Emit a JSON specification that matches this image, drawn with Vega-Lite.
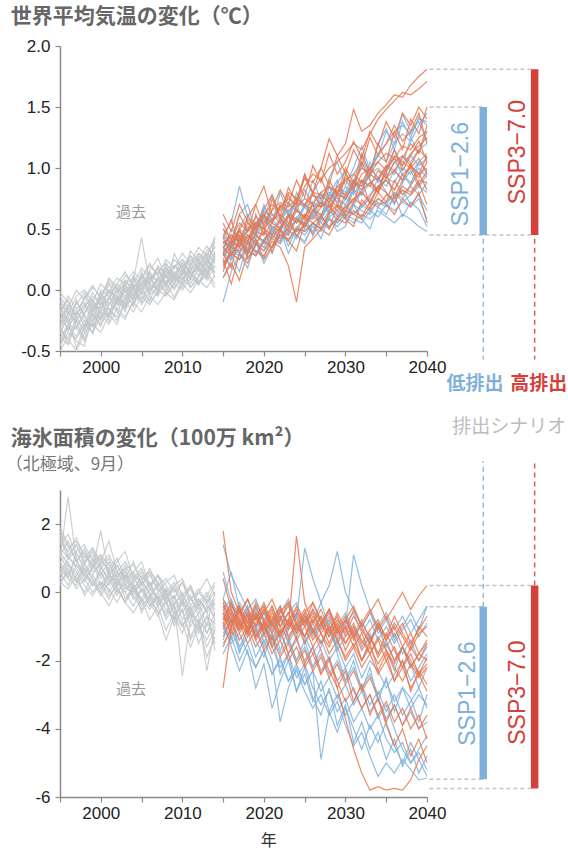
{
"$schema":"https://vega.github.io/schema/vega-lite/v6.json",
"background":"white",
"padding":{"left":5,"top":5,"right":0,"bottom":0},
"bounds":"flush",
"spacing":139,
"config":{"view":{"stroke":null},
"axis":{"grid":false,"title":null,"domainColor":"#8a8a8a","domainWidth":1.5,"tickColor":"#8a8a8a","tickWidth":1.2,"tickSize":5,"labelFont":"Liberation Sans","labelFontSize":17,"labelColor":"#222","labelPadding":3,"labelOverlap":false,"labelFlush":false},
"axisY":{"labelPadding":5}},
"datasets":{
"tl":[
{"k":"h01","g":"h","x":[1995,1996,1997,1998,1999,2000,2001,2002,2003,2004,2005,2006,2007,2008,2009,2010,2011,2012,2013,2014],"y":[-0.25,-0.12,-0.2,-0.05,-0.18,-0.08,-0.02,-0.1,0.02,-0.05,0.08,0,0.1,0.03,0.15,0.08,0.2,0.12,0.25,0.18]},
{"k":"h02","g":"h","x":[1995,1996,1997,1998,1999,2000,2001,2002,2003,2004,2005,2006,2007,2008,2009,2010,2011,2012,2013,2014],"y":[-0.42,-0.3,-0.38,-0.25,-0.3,-0.2,-0.28,-0.15,-0.22,-0.1,-0.18,-0.05,-0.12,-0.02,-0.08,0.05,-0.02,0.08,0.02,0.12]},
{"k":"h03","g":"h","x":[1995,1996,1997,1998,1999,2000,2001,2002,2003,2004,2005,2006,2007,2008,2009,2010,2011,2012,2013,2014],"y":[-0.05,-0.15,0,-0.08,0.02,-0.05,0.08,0,0.12,0.05,0.18,0.1,0.15,0.22,0.12,0.25,0.2,0.3,0.25,0.35]},
{"k":"h04","g":"h","x":[1995,1996,1997,1998,1999,2000,2001,2002,2003,2004,2005,2006,2007,2008,2009,2010,2011,2012,2013,2014],"y":[-0.35,-0.22,-0.48,-0.3,-0.15,-0.25,-0.12,-0.05,-0.15,0.02,-0.08,0.05,0,0.12,0.05,0.18,0.1,0.22,0.15,0.28]},
{"k":"h05","g":"h","x":[1995,1996,1997,1998,1999,2000,2001,2002,2003,2004,2005,2006,2007,2008,2009,2010,2011,2012,2013,2014],"y":[-0.15,-0.28,-0.1,-0.2,-0.05,-0.12,0,-0.08,0.05,0.1,0.02,0.12,0.08,0.18,0.1,0.22,0.15,0.28,0.2,0.4]},
{"k":"h06","g":"h","x":[1995,1996,1997,1998,1999,2000,2001,2002,2003,2004,2005,2006,2007,2008,2009,2010,2011,2012,2013,2014],"y":[-0.5,-0.38,-0.3,-0.42,-0.25,-0.18,-0.22,-0.1,-0.15,-0.05,0.05,-0.02,0.08,0,0.1,0.05,0.12,0.2,0.1,0.25]},
{"k":"h07","g":"h","x":[1995,1996,1997,1998,1999,2000,2001,2002,2003,2004,2005,2006,2007,2008,2009,2010,2011,2012,2013,2014],"y":[-0.2,-0.05,-0.15,-0.1,-0.22,0,-0.05,0.05,-0.02,0.08,0.43,0.05,0.15,0.1,0.2,0.15,0.25,0.18,0.3,0.22]},
{"k":"h08","g":"h","x":[1995,1996,1997,1998,1999,2000,2001,2002,2003,2004,2005,2006,2007,2008,2009,2010,2011,2012,2013,2014],"y":[-0.3,-0.2,-0.25,-0.12,-0.08,-0.18,-0.05,-0.12,0,-0.08,0.05,0.1,0.02,0.15,0.08,0.12,0.22,0.15,0.28,0.1]},
{"k":"h09","g":"h","x":[1995,1996,1997,1998,1999,2000,2001,2002,2003,2004,2005,2006,2007,2008,2009,2010,2011,2012,2013,2014],"y":[-0.1,-0.2,-0.05,0,-0.1,0.05,-0.02,0.1,0.05,0.15,0.08,0.2,0.12,0.25,0.18,0.3,0.22,0.35,0.28,0.42]},
{"k":"h10","g":"h","x":[1995,1996,1997,1998,1999,2000,2001,2002,2003,2004,2005,2006,2007,2008,2009,2010,2011,2012,2013,2014],"y":[-0.45,-0.35,-0.4,-0.28,-0.35,-0.22,-0.15,-0.25,-0.1,-0.18,-0.05,-0.12,0,-0.05,0.05,0,0.1,0.05,0.15,0.05]},
{"k":"h11","g":"h","x":[1995,1996,1997,1998,1999,2000,2001,2002,2003,2004,2005,2006,2007,2008,2009,2010,2011,2012,2013,2014],"y":[-0.28,-0.15,-0.22,-0.35,-0.12,-0.15,0,-0.05,-0.1,0.05,0,0.08,0.18,0.05,0.12,0.2,0.08,0.25,0.12,0.3]},
{"k":"h12","g":"h","x":[1995,1996,1997,1998,1999,2000,2001,2002,2003,2004,2005,2006,2007,2008,2009,2010,2011,2012,2013,2014],"y":[-0.38,-0.45,-0.25,-0.32,-0.2,-0.28,-0.18,-0.08,-0.12,-0.02,-0.1,0.02,-0.05,0.08,0.02,0.1,0.15,0.05,0.2,0.15]},
{"k":"h13","g":"h","x":[1995,1996,1997,1998,1999,2000,2001,2002,2003,2004,2005,2006,2007,2008,2009,2010,2011,2012,2013,2014],"y":[-0.08,-0.18,-0.12,-0.02,-0.15,-0.05,0.05,-0.02,0.08,0,0.12,0.05,0.2,0.12,0.25,0.18,0.28,0.22,0.2,0.32]},
{"k":"h14","g":"h","x":[1995,1996,1997,1998,1999,2000,2001,2002,2003,2004,2005,2006,2007,2008,2009,2010,2011,2012,2013,2014],"y":[-0.22,-0.32,-0.18,-0.25,-0.35,-0.1,-0.2,0.02,-0.05,0.05,-0.02,0.15,0.05,0.12,0,0.15,0.05,0.18,0.08,0.2]},
{"k":"h15","g":"h","x":[1995,1996,1997,1998,1999,2000,2001,2002,2003,2004,2005,2006,2007,2008,2009,2010,2011,2012,2013,2014],"y":[-0.32,-0.4,-0.5,-0.35,-0.28,-0.35,-0.2,-0.28,-0.05,-0.12,-0.02,-0.08,0.05,-0.02,0.12,0.1,0.02,0.12,0.18,0.26]},
{"k":"h16","g":"h","x":[1995,1996,1997,1998,1999,2000,2001,2002,2003,2004,2005,2006,2007,2008,2009,2010,2011,2012,2013,2014],"y":[-0.18,-0.08,-0.25,-0.15,-0.02,-0.12,-0.08,0.05,0.15,0.02,0.1,0.22,0.12,0.05,0.18,0.25,0.12,0.2,0.32,0.38]},
{"k":"h17","g":"h","x":[1995,1996,1997,1998,1999,2000,2001,2002,2003,2004,2005,2006,2007,2008,2009,2010,2011,2012,2013,2014],"y":[-0.4,-0.28,-0.32,-0.2,-0.36,-0.14,-0.22,-0.06,-0.18,0.04,-0.12,-0.02,0.1,-0.04,0.06,0.18,0.02,0.1,0.24,0.14]},
{"k":"h18","g":"h","x":[1995,1996,1997,1998,1999,2000,2001,2002,2003,2004,2005,2006,2007,2008,2009,2010,2011,2012,2013,2014],"y":[-0.12,-0.26,-0.16,-0.3,-0.08,-0.2,0.06,-0.1,0,-0.14,0.12,0.02,0.08,0.2,0.05,0.14,0.28,0.16,0.1,0.3]},
{"k":"h19","g":"h","x":[1995,1996,1997,1998,1999,2000,2001,2002,2003,2004,2005,2006,2007,2008,2009,2010,2011,2012,2013,2014],"y":[-0.3,-0.44,-0.2,-0.12,-0.26,-0.04,-0.16,-0.22,0.04,-0.06,0.15,-0.04,0.02,0.18,0.1,0.02,0.16,0.26,0.14,0.2]},
{"k":"h20","g":"h","x":[1995,1996,1997,1998,1999,2000,2001,2002,2003,2004,2005,2006,2007,2008,2009,2010,2011,2012,2013,2014],"y":[-0.02,-0.1,-0.22,-0.06,0.04,-0.08,0.1,0.02,-0.08,0.12,0.04,0.16,0.26,0.1,0.2,0.12,0.32,0.24,0.36,0.26]},
{"k":"h21","g":"h","x":[1995,1996,1997,1998,1999,2000,2001,2002,2003,2004,2005,2006,2007,2008,2009,2010,2011,2012,2013,2014],"y":[-0.46,-0.3,-0.42,-0.46,-0.2,-0.3,-0.1,-0.18,-0.24,-0.08,0.02,-0.1,-0.02,0.06,-0.06,0.08,0.18,0.06,0.12,0.02]},
{"k":"h22","g":"h","x":[1995,1996,1997,1998,1999,2000,2001,2002,2003,2004,2005,2006,2007,2008,2009,2010,2011,2012,2013,2014],"y":[-0.24,-0.14,-0.3,-0.18,-0.1,-0.24,-0.06,-0.16,0.08,-0.02,0.05,0.14,-0.04,0.22,0.12,0.06,0.2,0.3,0.22,0.36]},
{"k":"h23","g":"h","x":[1995,1996,1997,1998,1999,2000,2001,2002,2003,2004,2005,2006,2007,2008,2009,2010,2011,2012,2013,2014],"y":[-0.16,-0.34,-0.08,-0.22,-0.3,-0.02,-0.12,0,-0.14,0.1,-0.04,0.08,0.18,0.02,0.3,0.16,0.1,0.24,0.16,0.28]},
{"k":"h24","g":"h","x":[1995,1996,1997,1998,1999,2000,2001,2002,2003,2004,2005,2006,2007,2008,2009,2010,2011,2012,2013,2014],"y":[-0.36,-0.18,-0.26,-0.4,-0.16,-0.06,-0.26,-0.04,0.06,-0.1,0,0.1,0,0.16,0.08,0.22,0.14,0.04,0.26,0.44]},
{"k":"b01","g":"b","x":[2015,2016,2017,2018,2019,2020,2021,2022,2023,2024,2025,2026,2027,2028,2029,2030,2031,2032,2033,2034,2035,2036,2037,2038,2039,2040],"y":[0.3,0.42,0.35,0.5,0.45,0.58,0.52,0.48,0.62,0.55,0.68,0.6,0.72,0.65,0.8,0.75,0.88,0.82,0.95,0.9,1.02,0.95,1.1,1.05,1.15,1.2]},
{"k":"b02","g":"b","x":[2015,2016,2017,2018,2019,2020,2021,2022,2023,2024,2025,2026,2027,2028,2029,2030,2031,2032,2033,2034,2035,2036,2037,2038,2039,2040],"y":[0.35,0.28,0.4,0.33,0.45,0.38,0.5,0.42,0.55,0.48,0.52,0.6,0.55,0.65,0.58,0.7,0.62,0.68,0.75,0.7,0.72,0.8,0.75,0.85,0.78,0.88]},
{"k":"b03","g":"b","x":[2015,2016,2017,2018,2019,2020,2021,2022,2023,2024,2025,2026,2027,2028,2029,2030,2031,2032,2033,2034,2035,2036,2037,2038,2039,2040],"y":[0.25,0.38,0.3,0.45,0.4,0.35,0.48,0.55,0.45,0.6,0.52,0.65,0.58,0.72,0.8,0.75,0.9,0.85,1,1.1,1.05,1.2,1.28,1.22,1.35,1.45]},
{"k":"b04","g":"b","x":[2015,2016,2017,2018,2019,2020,2021,2022,2023,2024,2025,2026,2027,2028,2029,2030,2031,2032,2033,2034,2035,2036,2037,2038,2039,2040],"y":[0.4,0.32,0.45,0.38,0.3,0.42,0.5,0.45,0.4,0.52,0.48,0.55,0.5,0.58,0.52,0.6,0.55,0.62,0.58,0.65,0.6,0.55,0.62,0.58,0.52,0.48]},
{"k":"b05","g":"b","x":[2015,2016,2017,2018,2019,2020,2021,2022,2023,2024,2025,2026,2027,2028,2029,2030,2031,2032,2033,2034,2035,2036,2037,2038,2039,2040],"y":[0.2,0.3,0.25,0.35,0.28,0.4,0.35,0.45,0.5,0.42,0.55,0.48,0.6,0.68,0.62,0.75,0.7,0.8,0.72,0.85,0.9,0.82,0.95,0.88,1,0.92]},
{"k":"b06","g":"b","x":[2015,2016,2017,2018,2019,2020,2021,2022,2023,2024,2025,2026,2027,2028,2029,2030,2031,2032,2033,2034,2035,2036,2037,2038,2039,2040],"y":[0.45,0.55,0.85,0.6,0.52,0.65,0.58,0.7,0.62,0.75,0.68,0.72,0.8,0.75,0.85,0.78,0.9,0.82,0.95,1,0.92,1.05,0.98,1.1,1.02,1.08]},
{"k":"b07","g":"b","x":[2015,2016,2017,2018,2019,2020,2021,2022,2023,2024,2025,2026,2027,2028,2029,2030,2031,2032,2033,2034,2035,2036,2037,2038,2039,2040],"y":[0.3,0.25,0.35,0.3,0.4,0.35,0.32,0.45,0.4,0.5,0.45,0.55,0.5,0.6,0.65,0.58,0.7,0.65,0.62,0.75,0.7,0.8,0.72,0.78,0.85,0.8]},
{"k":"b08","g":"b","x":[2015,2016,2017,2018,2019,2020,2021,2022,2023,2024,2025,2026,2027,2028,2029,2030,2031,2032,2033,2034,2035,2036,2037,2038,2039,2040],"y":[0.38,0.45,0.4,0.52,0.48,0.6,0.55,0.68,0.62,0.58,0.7,0.65,0.78,0.72,0.85,0.8,0.95,1.05,0.98,1.12,1.2,1.3,1.35,1.28,1.4,1.38]},
{"k":"b09","g":"b","x":[2015,2016,2017,2018,2019,2020,2021,2022,2023,2024,2025,2026,2027,2028,2029,2030,2031,2032,2033,2034,2035,2036,2037,2038,2039,2040],"y":[0.28,0.35,0.3,0.38,0.45,0.4,0.48,0.42,0.5,0.58,0.52,0.62,0.55,0.5,0.6,0.68,0.62,0.7,0.65,0.72,0.68,0.75,0.82,0.7,0.78,0.65]},
{"k":"b10","g":"b","x":[2015,2016,2017,2018,2019,2020,2021,2022,2023,2024,2025,2026,2027,2028,2029,2030,2031,2032,2033,2034,2035,2036,2037,2038,2039,2040],"y":[0.42,0.35,0.48,0.4,0.55,0.62,0.5,0.58,0.65,0.55,0.7,0.62,0.75,0.8,0.72,0.85,0.78,0.9,0.85,0.8,0.92,0.88,1,0.95,1.05,1.12]},
{"k":"b11","g":"b","x":[2015,2016,2017,2018,2019,2020,2021,2022,2023,2024,2025,2026,2027,2028,2029,2030,2031,2032,2033,2034,2035,2036,2037,2038,2039,2040],"y":[0.22,0.32,0.28,0.25,0.38,0.32,0.42,0.38,0.48,0.45,0.4,0.52,0.48,0.58,0.55,0.62,0.58,0.55,0.65,0.6,0.7,0.65,0.72,0.68,0.75,0.58]},
{"k":"b12","g":"b","x":[2015,2016,2017,2018,2019,2020,2021,2022,2023,2024,2025,2026,2027,2028,2029,2030,2031,2032,2033,2034,2035,2036,2037,2038,2039,2040],"y":[0.35,0.4,0.5,0.45,0.42,0.55,0.62,0.58,0.7,0.65,0.6,0.72,0.68,0.78,0.75,0.7,0.82,0.78,0.88,0.92,0.85,0.98,0.9,1.02,0.95,1]},
{"k":"b13","g":"b","x":[2015,2016,2017,2018,2019,2020,2021,2022,2023,2024,2025,2026,2027,2028,2029,2030,2031,2032,2033,2034,2035,2036,2037,2038,2039,2040],"y":[0.1,0.25,0.4,0.3,0.55,0.62,0.45,0.38,0.6,0.72,0.5,0.66,0.58,0.85,0.7,0.62,0.9,0.78,1.05,0.88,0.95,1.15,1.02,1.25,1.12,1.3]},
{"k":"b14","g":"b","x":[2015,2016,2017,2018,2019,2020,2021,2022,2023,2024,2025,2026,2027,2028,2029,2030,2031,2032,2033,2034,2035,2036,2037,2038,2039,2040],"y":[0.5,0.36,0.62,0.7,0.48,0.58,0.78,0.6,0.52,0.8,0.68,0.9,0.74,0.62,0.88,0.98,0.8,1.1,0.92,1.2,1.32,1.15,1.38,1.25,1.42,1.35]},
{"k":"b15","g":"b","x":[2015,2016,2017,2018,2019,2020,2021,2022,2023,2024,2025,2026,2027,2028,2029,2030,2031,2032,2033,2034,2035,2036,2037,2038,2039,2040],"y":[-0.1,0.15,0.3,0.18,0.4,0.22,0.35,0.5,0.3,0.45,0.38,0.55,0.42,0.6,0.48,0.52,0.7,0.58,0.5,0.68,0.62,0.78,0.6,0.72,0.66,0.52]},
{"k":"b16","g":"b","x":[2015,2016,2017,2018,2019,2020,2021,2022,2023,2024,2025,2026,2027,2028,2029,2030,2031,2032,2033,2034,2035,2036,2037,2038,2039,2040],"y":[0.32,0.5,0.42,0.28,0.48,0.7,0.55,0.8,0.62,0.72,0.95,0.78,0.7,0.92,1.05,0.86,1,1.18,0.98,1.1,1.3,1.2,1.44,1.3,1.38,1.22]},
{"k":"b17","g":"b","x":[2015,2016,2017,2018,2019,2020,2021,2022,2023,2024,2025,2026,2027,2028,2029,2030,2031,2032,2033,2034,2035,2036,2037,2038,2039,2040],"y":[0.18,0.28,0.15,0.4,0.32,0.26,0.45,0.52,0.36,0.5,0.62,0.44,0.58,0.7,0.55,0.64,0.82,0.68,0.76,0.92,0.8,0.7,0.88,0.98,0.84,0.95]},
{"k":"b18","g":"b","x":[2015,2016,2017,2018,2019,2020,2021,2022,2023,2024,2025,2026,2027,2028,2029,2030,2031,2032,2033,2034,2035,2036,2037,2038,2039,2040],"y":[0.44,0.3,0.52,0.62,0.5,0.68,0.58,0.5,0.72,0.64,0.82,0.7,0.6,0.78,0.9,0.74,0.86,1.02,0.9,0.8,0.98,1.08,0.94,0.86,1.05,0.98]},
{"k":"o01","g":"o","x":[2015,2016,2017,2018,2019,2020,2021,2022,2023,2024,2025,2026,2027,2028,2029,2030,2031,2032,2033,2034,2035,2036,2037,2038,2039,2040],"y":[0.35,0.45,0.4,0.55,0.5,0.62,0.7,0.65,0.8,0.75,0.92,0.88,1,1.24,1.1,1.2,1.48,1.3,1.35,1.45,1.52,1.6,1.58,1.68,1.75,1.81]},
{"k":"o02","g":"o","x":[2015,2016,2017,2018,2019,2020,2021,2022,2023,2024,2025,2026,2027,2028,2029,2030,2031,2032,2033,2034,2035,2036,2037,2038,2039,2040],"y":[0.3,0.38,0.45,0.4,0.52,0.6,0.55,0.68,0.75,0.7,0.85,0.95,0.9,1,1.05,1.12,1.2,1.15,1.28,1.4,1.48,1.55,1.62,1.6,1.65,1.71]},
{"k":"o03","g":"o","x":[2015,2016,2017,2018,2019,2020,2021,2022,2023,2024,2025,2026,2027,2028,2029,2030,2031,2032,2033,2034,2035,2036,2037,2038,2039,2040],"y":[0.25,0.05,0.3,0.22,0.38,0.32,0.45,0.4,0.52,0.48,0.6,0.55,0.5,0.62,0.7,0.65,0.75,0.8,0.72,0.85,0.9,0.82,0.95,1,0.92,1.05]},
{"k":"o04","g":"o","x":[2015,2016,2017,2018,2019,2020,2021,2022,2023,2024,2025,2026,2027,2028,2029,2030,2031,2032,2033,2034,2035,2036,2037,2038,2039,2040],"y":[0.4,0.35,0.48,0.42,0.55,0.5,0.45,0.58,0.52,0.65,0.6,0.7,0.68,0.75,0.82,0.78,0.88,0.85,0.95,0.9,1,1.08,1.02,1.12,1.18,1.25]},
{"k":"o05","g":"o","x":[2015,2016,2017,2018,2019,2020,2021,2022,2023,2024,2025,2026,2027,2028,2029,2030,2031,2032,2033,2034,2035,2036,2037,2038,2039,2040],"y":[0.2,0.3,0.25,0.38,0.32,0.28,0.4,0.35,0.2,-0.1,0.35,0.42,0.5,0.45,0.58,0.55,0.65,0.6,0.72,0.68,0.78,0.75,0.85,0.8,0.9,0.88]},
{"k":"o06","g":"o","x":[2015,2016,2017,2018,2019,2020,2021,2022,2023,2024,2025,2026,2027,2028,2029,2030,2031,2032,2033,2034,2035,2036,2037,2038,2039,2040],"y":[0.45,0.38,0.5,0.58,0.52,0.62,0.55,0.7,0.65,0.72,0.68,0.78,0.75,0.85,0.8,0.92,0.88,1,0.95,1.05,1.12,1.08,1.18,1.15,1.25,1.3]},
{"k":"o07","g":"o","x":[2015,2016,2017,2018,2019,2020,2021,2022,2023,2024,2025,2026,2027,2028,2029,2030,2031,2032,2033,2034,2035,2036,2037,2038,2039,2040],"y":[0.3,0.4,0.35,0.45,0.38,0.48,0.42,0.52,0.6,0.55,0.62,0.58,0.68,0.72,0.65,0.78,0.72,0.82,0.88,0.8,0.92,0.98,0.9,1.02,0.95,1.1]},
{"k":"o08","g":"o","x":[2015,2016,2017,2018,2019,2020,2021,2022,2023,2024,2025,2026,2027,2028,2029,2030,2031,2032,2033,2034,2035,2036,2037,2038,2039,2040],"y":[0.35,0.28,0.42,0.38,0.45,0.4,0.52,0.48,0.45,0.58,0.55,0.65,0.62,0.7,0.6,0.68,0.75,0.7,0.78,0.85,0.8,0.72,0.82,0.78,0.88,0.7]},
{"k":"o09","g":"o","x":[2015,2016,2017,2018,2019,2020,2021,2022,2023,2024,2025,2026,2027,2028,2029,2030,2031,2032,2033,2034,2035,2036,2037,2038,2039,2040],"y":[0.28,0.35,0.32,0.4,0.48,0.45,0.55,0.5,0.62,0.58,0.52,0.65,0.72,0.68,0.78,0.75,0.85,0.9,0.85,0.98,0.92,1.05,1.1,1.02,1.15,1.08]},
{"k":"o10","g":"o","x":[2015,2016,2017,2018,2019,2020,2021,2022,2023,2024,2025,2026,2027,2028,2029,2030,2031,2032,2033,2034,2035,2036,2037,2038,2039,2040],"y":[0.5,0.42,0.55,0.48,0.6,0.55,0.65,0.72,0.68,0.75,0.7,0.8,0.78,0.72,0.85,0.9,0.82,0.95,1,0.92,1.02,0.98,1.08,1.2,1.12,1.35]},
{"k":"o11","g":"o","x":[2015,2016,2017,2018,2019,2020,2021,2022,2023,2024,2025,2026,2027,2028,2029,2030,2031,2032,2033,2034,2035,2036,2037,2038,2039,2040],"y":[0.22,0.3,0.38,0.32,0.28,0.4,0.35,0.45,0.42,0.5,0.48,0.55,0.6,0.52,0.58,0.65,0.62,0.58,0.68,0.75,0.7,0.62,0.75,0.68,0.8,0.55]},
{"k":"o12","g":"o","x":[2015,2016,2017,2018,2019,2020,2021,2022,2023,2024,2025,2026,2027,2028,2029,2030,2031,2032,2033,2034,2035,2036,2037,2038,2039,2040],"y":[0.38,0.45,0.4,0.48,0.55,0.5,0.58,0.62,0.55,0.68,0.75,0.7,0.8,0.85,0.78,0.9,0.95,0.88,1,1.05,0.98,1.1,1.05,1,1.08,0.95]},
{"k":"o13","g":"o","x":[2015,2016,2017,2018,2019,2020,2021,2022,2023,2024,2025,2026,2027,2028,2029,2030,2031,2032,2033,2034,2035,2036,2037,2038,2039,2040],"y":[0.15,0.35,0.5,0.3,0.62,0.45,0.75,0.58,0.48,0.7,0.95,0.8,0.68,0.9,0.78,1,0.88,1.12,0.96,1.2,1.05,1.3,1.15,1.4,1.28,1.5]},
{"k":"o14","g":"o","x":[2015,2016,2017,2018,2019,2020,2021,2022,2023,2024,2025,2026,2027,2028,2029,2030,2031,2032,2033,2034,2035,2036,2037,2038,2039,2040],"y":[0.55,0.4,0.62,0.48,0.7,0.85,0.62,0.55,0.78,0.66,0.58,0.8,0.92,0.75,0.68,0.95,0.84,1.05,0.9,0.82,1,1.15,0.98,1.1,1.22,1.05]},
{"k":"o15","g":"o","x":[2015,2016,2017,2018,2019,2020,2021,2022,2023,2024,2025,2026,2027,2028,2029,2030,2031,2032,2033,2034,2035,2036,2037,2038,2039,2040],"y":[0.1,0.22,0.08,0.3,0.42,0.25,0.36,0.5,0.4,0.32,0.55,0.46,0.62,0.5,0.7,0.58,0.52,0.74,0.66,0.8,0.72,0.9,0.78,0.86,0.96,0.82]},
{"k":"o16","g":"o","x":[2015,2016,2017,2018,2019,2020,2021,2022,2023,2024,2025,2026,2027,2028,2029,2030,2031,2032,2033,2034,2035,2036,2037,2038,2039,2040],"y":[0.42,0.58,0.35,0.6,0.7,0.52,0.66,0.82,0.7,0.9,0.76,1.02,0.88,1.12,0.95,1.05,1.22,1.08,1.3,1.18,1.38,1.25,1.45,1.35,1.5,1.4]},
{"k":"o17","g":"o","x":[2015,2016,2017,2018,2019,2020,2021,2022,2023,2024,2025,2026,2027,2028,2029,2030,2031,2032,2033,2034,2035,2036,2037,2038,2039,2040],"y":[0.3,0.18,0.44,0.26,0.36,0.52,0.3,0.48,0.62,0.44,0.56,0.7,0.5,0.64,0.78,0.6,0.72,0.9,0.7,0.84,0.96,0.76,0.9,1.04,0.86,0.98]},
{"k":"o18","g":"o","x":[2015,2016,2017,2018,2019,2020,2021,2022,2023,2024,2025,2026,2027,2028,2029,2030,2031,2032,2033,2034,2035,2036,2037,2038,2039,2040],"y":[0.62,0.48,0.7,0.56,0.45,0.66,0.78,0.6,0.84,0.72,0.92,0.8,1,0.86,1.1,0.95,1.15,1.02,1.25,1.1,1.2,1.35,1.22,1.3,1.45,1.2]}
],
"bl":[
{"k":"h01","g":"h","x":[1995,1996,1997,1998,1999,2000,2001,2002,2003,2004,2005,2006,2007,2008,2009,2010,2011,2012,2013,2014],"y":[1,2.8,0.9,1.2,0.6,0.8,0.3,0.6,0.2,0.5,0,0.3,-0.2,0.1,-0.3,-0.1,-0.5,-0.2,-0.6,-0.3]},
{"k":"h02","g":"h","x":[1995,1996,1997,1998,1999,2000,2001,2002,2003,2004,2005,2006,2007,2008,2009,2010,2011,2012,2013,2014],"y":[0.5,0.9,0.3,0.7,0.4,0.1,0.5,0,0.3,-0.2,0.1,-0.4,-0.1,-0.5,-0.8,-0.3,-0.6,-0.9,-0.4,-0.7]},
{"k":"h03","g":"h","x":[1995,1996,1997,1998,1999,2000,2001,2002,2003,2004,2005,2006,2007,2008,2009,2010,2011,2012,2013,2014],"y":[1.5,1.2,1.6,1,1.3,0.8,1.1,0.6,0.9,0.5,0.3,0.7,0.2,0.4,0,0.3,-0.2,0.1,-0.3,0]},
{"k":"h04","g":"h","x":[1995,1996,1997,1998,1999,2000,2001,2002,2003,2004,2005,2006,2007,2008,2009,2010,2011,2012,2013,2014],"y":[0.8,0.5,1,0.4,0.7,1.8,0.5,0.3,0.6,0.1,0.4,-0.1,0.2,-0.3,-0.1,-0.6,-0.2,-0.5,-1.2,-0.8]},
{"k":"h05","g":"h","x":[1995,1996,1997,1998,1999,2000,2001,2002,2003,2004,2005,2006,2007,2008,2009,2010,2011,2012,2013,2014],"y":[1.2,0.8,0.5,0.9,1.1,0.6,0.2,0.8,0.4,0,0.5,0.2,-0.3,0,-0.5,-0.2,-0.8,-0.4,-0.1,-0.5]},
{"k":"h06","g":"h","x":[1995,1996,1997,1998,1999,2000,2001,2002,2003,2004,2005,2006,2007,2008,2009,2010,2011,2012,2013,2014],"y":[0.3,0.6,0.1,0.4,0,0.3,-0.1,0.2,-0.3,0.1,-0.2,-0.5,-0.1,-0.8,-0.4,-1,-0.6,-1.5,-0.9,-1.2]},
{"k":"h07","g":"h","x":[1995,1996,1997,1998,1999,2000,2001,2002,2003,2004,2005,2006,2007,2008,2009,2010,2011,2012,2013,2014],"y":[1.8,1.3,1.5,1.1,0.8,1,0.6,0.9,1.2,0.4,0.7,0.2,0.5,0,0.3,-0.2,0.1,-0.4,-0.1,0.3]},
{"k":"h08","g":"h","x":[1995,1996,1997,1998,1999,2000,2001,2002,2003,2004,2005,2006,2007,2008,2009,2010,2011,2012,2013,2014],"y":[0.9,1.1,0.7,0.3,0.8,0.5,0.9,0.2,0.5,-0.1,0.3,0,-0.4,-0.1,-0.6,-0.3,-1,-0.6,-0.3,-0.8]},
{"k":"h09","g":"h","x":[1995,1996,1997,1998,1999,2000,2001,2002,2003,2004,2005,2006,2007,2008,2009,2010,2011,2012,2013,2014],"y":[0.6,0.2,0.8,0.5,0.2,0.6,0,0.4,0.1,0.3,-0.3,0.1,-0.2,-0.7,-0.3,-2.45,-0.8,-1.1,-0.7,-1.5]},
{"k":"h10","g":"h","x":[1995,1996,1997,1998,1999,2000,2001,2002,2003,2004,2005,2006,2007,2008,2009,2010,2011,2012,2013,2014],"y":[1.3,1,1.4,0.8,0.5,0.9,0.7,1,0.4,0.6,0.2,0.5,0.1,-0.2,0.2,-0.4,-0.1,-0.7,-2.3,-1]},
{"k":"h11","g":"h","x":[1995,1996,1997,1998,1999,2000,2001,2002,2003,2004,2005,2006,2007,2008,2009,2010,2011,2012,2013,2014],"y":[0.7,0.4,0.2,0.6,0.3,-0.1,0.3,0.5,-0.2,0.2,-0.4,-0.1,-0.6,-0.3,-0.9,-0.5,-1.3,-0.8,-1.2,-0.6]},
{"k":"h12","g":"h","x":[1995,1996,1997,1998,1999,2000,2001,2002,2003,2004,2005,2006,2007,2008,2009,2010,2011,2012,2013,2014],"y":[1.1,1.5,0.9,0.6,1,0.4,0.7,0.3,0,0.4,0.1,-0.2,0.3,-0.1,-0.4,0,-0.6,-0.2,-0.5,-0.2]},
{"k":"h13","g":"h","x":[1995,1996,1997,1998,1999,2000,2001,2002,2003,2004,2005,2006,2007,2008,2009,2010,2011,2012,2013,2014],"y":[0.4,0.8,0.6,0.2,-0.1,0.3,0.1,-0.3,0.2,-0.1,-0.5,-0.2,-0.6,-1.4,-0.7,-1,-0.5,-0.9,-1.6,-1.1]},
{"k":"h14","g":"h","x":[1995,1996,1997,1998,1999,2000,2001,2002,2003,2004,2005,2006,2007,2008,2009,2010,2011,2012,2013,2014],"y":[1.6,1,1.2,1.4,0.9,1.1,0.8,0.5,0.7,0.8,0.4,0.6,0,0.3,0.5,-0.1,0.2,-0.3,0,-0.4]},
{"k":"h15","g":"h","x":[1995,1996,1997,1998,1999,2000,2001,2002,2003,2004,2005,2006,2007,2008,2009,2010,2011,2012,2013,2014],"y":[0.2,0.7,0.4,0,0.5,0.2,-0.2,0.3,0,-0.4,0.1,-0.3,-0.7,-0.2,-1,-0.5,-1.4,-0.9,-1.9,-1.3]},
{"k":"h16","g":"h","x":[1995,1996,1997,1998,1999,2000,2001,2002,2003,2004,2005,2006,2007,2008,2009,2010,2011,2012,2013,2014],"y":[1.9,1.4,0.9,1.3,0.7,1.1,0.5,0.8,0.3,0.6,0.9,0.2,0.5,-0.1,0.2,0.4,-0.2,0,0.4,-0.1]},
{"k":"h17","g":"h","x":[1995,1996,1997,1998,1999,2000,2001,2002,2003,2004,2005,2006,2007,2008,2009,2010,2011,2012,2013,2014],"y":[0.9,0.4,1.2,0.6,0.2,0.7,0.4,-0.1,0.5,0.2,-0.2,0.3,-0.3,-0.6,-0.1,-0.8,-0.4,-1.2,-0.7,-0.9]},
{"k":"h18","g":"h","x":[1995,1996,1997,1998,1999,2000,2001,2002,2003,2004,2005,2006,2007,2008,2009,2010,2011,2012,2013,2014],"y":[1.4,1.7,1.1,0.8,1.3,0.9,1.5,0.6,0.4,0.9,0.2,0.6,0.3,-0.2,0.1,-0.3,0.2,-0.5,-0.2,-0.6]},
{"k":"h19","g":"h","x":[1995,1996,1997,1998,1999,2000,2001,2002,2003,2004,2005,2006,2007,2008,2009,2010,2011,2012,2013,2014],"y":[0.6,1,0.8,0.5,0.9,0.2,0.6,0.1,-0.3,0.2,-0.6,-0.1,-0.4,0.1,-0.7,-1.2,-0.6,-0.9,-0.5,-1.7]},
{"k":"h20","g":"h","x":[1995,1996,1997,1998,1999,2000,2001,2002,2003,2004,2005,2006,2007,2008,2009,2010,2011,2012,2013,2014],"y":[1.1,0.6,0.3,0.8,0.4,0,0.5,0.2,0.7,0,0.3,-0.4,0,-0.3,-0.8,-0.2,-0.7,-0.3,-1,0]},
{"k":"h21","g":"h","x":[1995,1996,1997,1998,1999,2000,2001,2002,2003,2004,2005,2006,2007,2008,2009,2010,2011,2012,2013,2014],"y":[0.3,0.1,0.5,-0.1,0.3,0,-0.4,0.1,-0.3,-0.6,-0.2,-0.8,-0.4,-1.1,-0.6,-0.9,-1.6,-1,-1.4,-0.9]},
{"k":"h22","g":"h","x":[1995,1996,1997,1998,1999,2000,2001,2002,2003,2004,2005,2006,2007,2008,2009,2010,2011,2012,2013,2014],"y":[1.7,1.1,1.4,0.9,1.2,0.7,1,0.4,0.8,0.3,0.6,0.1,0.5,0.2,-0.2,0.3,-0.4,0,-0.3,0.2]},
{"k":"b01","g":"b","x":[2015,2016,2017,2018,2019,2020,2021,2022,2023,2024,2025,2026,2027,2028,2029,2030,2031,2032,2033,2034,2035,2036,2037,2038,2039,2040],"y":[-0.5,-0.2,-0.8,-0.4,-1,-0.6,-1.2,-0.8,-1.5,-1,-1.3,-1.8,-1.4,-2,-1.6,-2.2,-1.8,-2.5,-2,-2.3,-2.8,-2.4,-2,-2.6,-2.2,-1.8]},
{"k":"b02","g":"b","x":[2015,2016,2017,2018,2019,2020,2021,2022,2023,2024,2025,2026,2027,2028,2029,2030,2031,2032,2033,2034,2035,2036,2037,2038,2039,2040],"y":[1.4,0.5,0,-0.5,-0.2,-0.8,-0.4,-1,-0.6,-0.3,-0.9,-0.5,-1.1,-0.7,-1.3,-0.9,-0.6,-1.2,-0.8,-1.4,-1,-1.5,-1.1,-0.8,-1.3,-0.9]},
{"k":"b03","g":"b","x":[2015,2016,2017,2018,2019,2020,2021,2022,2023,2024,2025,2026,2027,2028,2029,2030,2031,2032,2033,2034,2035,2036,2037,2038,2039,2040],"y":[-1,-1.5,-1.2,-1.8,-2.2,-1.7,-2.4,-2,-2.6,-2.3,-2.9,-3.4,-3,-3.6,-3.2,-3.9,-4.5,-4.1,-4.8,-5.4,-5,-5.3,-4.9,-5.2,-5.5,-5.45]},
{"k":"b04","g":"b","x":[2015,2016,2017,2018,2019,2020,2021,2022,2023,2024,2025,2026,2027,2028,2029,2030,2031,2032,2033,2034,2035,2036,2037,2038,2039,2040],"y":[-0.8,-0.3,-1,-0.6,-1.3,-0.9,-1.6,-2.2,-1.8,-2.5,-2.1,-2.8,-3.3,-2.9,-3.5,-3.1,-3.8,-3.4,-4,-3.6,-4.3,-4.7,-4.4,-5,-4.6,-4.2]},
{"k":"b05","g":"b","x":[2015,2016,2017,2018,2019,2020,2021,2022,2023,2024,2025,2026,2027,2028,2029,2030,2031,2032,2033,2034,2035,2036,2037,2038,2039,2040],"y":[-0.3,-0.9,-0.5,-1.1,-0.7,-0.4,-1,-0.6,-0.2,-0.8,1.3,0.4,-0.3,0.2,1.2,0,-0.5,-1,-0.6,-1.2,-0.8,-1.4,-1,-0.6,-1.1,-0.4]},
{"k":"b06","g":"b","x":[2015,2016,2017,2018,2019,2020,2021,2022,2023,2024,2025,2026,2027,2028,2029,2030,2031,2032,2033,2034,2035,2036,2037,2038,2039,2040],"y":[-1.2,-0.8,-1.6,-1.1,-1.9,-1.4,-2,-3.8,-2.8,-2.2,-2.7,-2.3,-4.9,-3.5,-3,-3.6,-3.2,-2.7,-3.3,-2.9,-3.5,-3,-3.6,-3.2,-2.8,-3.4]},
{"k":"b07","g":"b","x":[2015,2016,2017,2018,2019,2020,2021,2022,2023,2024,2025,2026,2027,2028,2029,2030,2031,2032,2033,2034,2035,2036,2037,2038,2039,2040],"y":[-0.6,-1,-0.5,-0.9,-0.4,-1.2,-0.8,-1.4,-1,-0.7,-1.3,-0.9,-1.5,-1.1,-1.7,-1.3,-1,-1.6,-1.2,-1.8,-1.4,-2,-1.6,-2.2,-1.8,-1.5]},
{"k":"b08","g":"b","x":[2015,2016,2017,2018,2019,2020,2021,2022,2023,2024,2025,2026,2027,2028,2029,2030,2031,2032,2033,2034,2035,2036,2037,2038,2039,2040],"y":[-0.2,-0.6,-1.1,-0.7,-1.3,-0.9,-1.5,-1.1,-1.8,-1.4,-2,-1.6,-2.3,-1.9,-2.6,-2.2,-2.9,-3.4,-3,-3.7,-3.3,-4,-4.6,-5,-4.7,-5.2]},
{"k":"b09","g":"b","x":[2015,2016,2017,2018,2019,2020,2021,2022,2023,2024,2025,2026,2027,2028,2029,2030,2031,2032,2033,2034,2035,2036,2037,2038,2039,2040],"y":[-0.9,-1.4,-1,-0.6,-1.2,-0.8,-1.4,-1,-0.6,-1.1,-0.7,-1.3,-0.9,-0.5,-1,-0.6,-1.2,-0.8,-1.4,-1,-0.6,-1.1,-0.7,-1.2,-0.8,-0.4]},
{"k":"b10","g":"b","x":[2015,2016,2017,2018,2019,2020,2021,2022,2023,2024,2025,2026,2027,2028,2029,2030,2031,2032,2033,2034,2035,2036,2037,2038,2039,2040],"y":[-1.5,-1.1,-1.7,-1.3,-1,-1.6,-1.2,-1.8,-1.4,-2,-1.6,-2.2,-1.8,-2.4,-2,-2.6,-2.2,-2.8,-2.4,-3,-2.6,-3.2,-2.8,-3.4,-3,-3.3]},
{"k":"b11","g":"b","x":[2015,2016,2017,2018,2019,2020,2021,2022,2023,2024,2025,2026,2027,2028,2029,2030,2031,2032,2033,2034,2035,2036,2037,2038,2039,2040],"y":[-0.4,-0.8,-0.3,-0.7,-1.1,-0.6,-1,-0.5,-0.9,-1.3,-0.8,-1.2,-0.7,-1.1,-1.5,-1,1.1,0.2,-0.5,-1,-1.6,-1.2,-1.8,-1.4,-2,-1.6]},
{"k":"b12","g":"b","x":[2015,2016,2017,2018,2019,2020,2021,2022,2023,2024,2025,2026,2027,2028,2029,2030,2031,2032,2033,2034,2035,2036,2037,2038,2039,2040],"y":[-1.8,-1.3,-2,-1.5,-2.2,-1.7,-2.4,-1.9,-2.6,-2.1,-2.7,-2.3,-2.9,-2.5,-3.1,-2.7,-3.3,-2.9,-3.5,-3.1,-3.7,-3.3,-3.9,-3.5,-4,-3.8]},
{"k":"b13","g":"b","x":[2015,2016,2017,2018,2019,2020,2021,2022,2023,2024,2025,2026,2027,2028,2029,2030,2031,2032,2033,2034,2035,2036,2037,2038,2039,2040],"y":[0.6,-0.3,-0.9,-0.4,-1.4,-1.9,-1.2,-2.4,-1.8,-2.9,-2.2,-3.1,-3.6,-2.8,-3.9,-3.3,-4.4,-3.8,-4.6,-4.1,-4.9,-4.3,-5.1,-4.6,-5.3,-4.8]},
{"k":"b14","g":"b","x":[2015,2016,2017,2018,2019,2020,2021,2022,2023,2024,2025,2026,2027,2028,2029,2030,2031,2032,2033,2034,2035,2036,2037,2038,2039,2040],"y":[-1.4,-0.7,-1.8,-1,-0.5,-1.3,-0.8,-1.7,-1.1,-0.6,-1.5,-0.9,-0.3,-1,-1.6,-0.8,-1.3,-2,-1.4,-0.9,-1.7,-2.3,-1.6,-2.1,-2.8,-2.2]},
{"k":"b15","g":"b","x":[2015,2016,2017,2018,2019,2020,2021,2022,2023,2024,2025,2026,2027,2028,2029,2030,2031,2032,2033,2034,2035,2036,2037,2038,2039,2040],"y":[-0.2,0.6,-0.5,-1.2,-0.6,-1.5,-0.9,-0.4,-1.3,-2,-1.4,-2.2,-1.6,-0.9,-1.8,-2.6,-2,-2.9,-2.2,-3.2,-2.5,-3.5,-2.8,-3.1,-3.8,-3]},
{"k":"b16","g":"b","x":[2015,2016,2017,2018,2019,2020,2021,2022,2023,2024,2025,2026,2027,2028,2029,2030,2031,2032,2033,2034,2035,2036,2037,2038,2039,2040],"y":[-0.9,-1.6,-2.3,-1.7,-2.8,-2.1,-3.4,-2.6,-2,-2.9,-2.4,-3.2,-2.6,-3.5,-4.1,-3.4,-4,-4.6,-3.9,-4.4,-3.8,-4.5,-5,-4.4,-4.9,-5.4]},
{"k":"o01","g":"o","x":[2015,2016,2017,2018,2019,2020,2021,2022,2023,2024,2025,2026,2027,2028,2029,2030,2031,2032,2033,2034,2035,2036,2037,2038,2039,2040],"y":[1.8,0,-0.6,-0.2,-0.8,-0.4,-1,-0.6,-0.3,-0.9,-0.5,-1.1,-0.7,-1.3,-0.9,-1.5,-1.1,-1.7,-1.3,-1.9,-1.5,-2,-1.6,-2.2,-1.8,-2]},
{"k":"o02","g":"o","x":[2015,2016,2017,2018,2019,2020,2021,2022,2023,2024,2025,2026,2027,2028,2029,2030,2031,2032,2033,2034,2035,2036,2037,2038,2039,2040],"y":[-2.8,-1,-0.5,-1.1,-0.7,-1.2,-0.8,-0.4,-1,1.65,-0.3,-0.9,-0.5,-1.1,-0.7,-1.3,-0.9,-1.5,-1.1,-0.8,-1.4,-1,-1.6,-1.2,-1.8,-1.4]},
{"k":"o03","g":"o","x":[2015,2016,2017,2018,2019,2020,2021,2022,2023,2024,2025,2026,2027,2028,2029,2030,2031,2032,2033,2034,2035,2036,2037,2038,2039,2040],"y":[-0.7,-1.2,-0.8,-1.3,-0.9,-0.5,-1.1,-0.7,-1.3,-0.9,-1.5,-1.1,-1.7,-2.3,-2.8,-3.7,-4.6,-5.3,-5.8,-5.7,-5.8,-5.75,-5.8,-5.5,-4.9,-4.5]},
{"k":"o04","g":"o","x":[2015,2016,2017,2018,2019,2020,2021,2022,2023,2024,2025,2026,2027,2028,2029,2030,2031,2032,2033,2034,2035,2036,2037,2038,2039,2040],"y":[-0.4,-0.9,-0.5,-1,-0.6,-1.1,-0.7,-1.2,-0.8,-0.5,-1,-0.6,-1.2,-0.8,-1.4,-1,-1.6,-1.2,-1.8,-1.4,-2,-1.6,-2.2,-1.8,-2.4,-2.1]},
{"k":"o05","g":"o","x":[2015,2016,2017,2018,2019,2020,2021,2022,2023,2024,2025,2026,2027,2028,2029,2030,2031,2032,2033,2034,2035,2036,2037,2038,2039,2040],"y":[-1,-0.5,-1.1,-0.7,-1.3,-0.9,-0.4,-1,-0.6,-1.2,-0.8,-1.4,-1,-0.6,-1.2,-0.8,-0.4,-1,-0.6,-0.2,-0.8,-0.4,0,-0.5,-0.1,0.2]},
{"k":"o06","g":"o","x":[2015,2016,2017,2018,2019,2020,2021,2022,2023,2024,2025,2026,2027,2028,2029,2030,2031,2032,2033,2034,2035,2036,2037,2038,2039,2040],"y":[-0.6,-1.3,-0.9,-1.5,-1.1,-1.7,-1.3,-1.9,-1.5,-2.1,-1.7,-2.3,-1.9,-2.5,-2.1,-2.7,-2.3,-2.9,-2.5,-3.1,-3.8,-3.3,-3.9,-3.4,-4,-3.6]},
{"k":"o07","g":"o","x":[2015,2016,2017,2018,2019,2020,2021,2022,2023,2024,2025,2026,2027,2028,2029,2030,2031,2032,2033,2034,2035,2036,2037,2038,2039,2040],"y":[-0.9,-0.4,-0.8,-1.2,-0.7,-1.1,-0.6,-1,-1.4,-0.9,-1.3,-0.8,-1.2,-1.6,-1.1,-1.5,-1,-1.4,-1.8,-1.3,-1.7,-2.1,-1.6,-2,-2.4,-1.9]},
{"k":"o08","g":"o","x":[2015,2016,2017,2018,2019,2020,2021,2022,2023,2024,2025,2026,2027,2028,2029,2030,2031,2032,2033,2034,2035,2036,2037,2038,2039,2040],"y":[-0.2,-0.7,-1.1,-0.6,-1,-0.5,-0.9,-1.3,-0.8,-1.2,-0.7,-1.1,-1.5,-1,-1.4,-1.9,-1.5,-2,-1.6,-2.1,-1.7,-2.2,-2.6,-2.1,-2.5,-2.2]},
{"k":"o09","g":"o","x":[2015,2016,2017,2018,2019,2020,2021,2022,2023,2024,2025,2026,2027,2028,2029,2030,2031,2032,2033,2034,2035,2036,2037,2038,2039,2040],"y":[-1.3,-0.8,-1.4,-1,-1.6,-1.2,-1.8,-1.4,-2,-1.6,-2.2,-1.8,-2.4,-2,-2.6,-3.2,-2.8,-3.4,-3,-3.6,-3.2,-3.8,-3.4,-4,-3.6,-4.3]},
{"k":"o10","g":"o","x":[2015,2016,2017,2018,2019,2020,2021,2022,2023,2024,2025,2026,2027,2028,2029,2030,2031,2032,2033,2034,2035,2036,2037,2038,2039,2040],"y":[-0.5,-1,-0.4,-0.9,-0.3,-0.8,-1.2,-0.7,-1.1,-0.6,-1,-0.5,-0.9,-1.3,-0.8,-1.2,-0.7,-1.1,-1.5,-1,-1.4,-0.9,-1.3,-1.7,-1.2,-1]},
{"k":"o11","g":"o","x":[2015,2016,2017,2018,2019,2020,2021,2022,2023,2024,2025,2026,2027,2028,2029,2030,2031,2032,2033,2034,2035,2036,2037,2038,2039,2040],"y":[-1.1,-0.6,-1.2,-0.8,-1.4,-1,-1.6,-1.2,-0.8,-1.4,-1,-1.6,-1.2,-1.8,-1.4,-2,-1.6,-2.2,-1.8,-2.4,-2,-2.6,-2.2,-2.8,-2.4,-2.9]},
{"k":"o12","g":"o","x":[2015,2016,2017,2018,2019,2020,2021,2022,2023,2024,2025,2026,2027,2028,2029,2030,2031,2032,2033,2034,2035,2036,2037,2038,2039,2040],"y":[-0.8,-0.3,-0.9,-0.5,-1,-0.6,-0.2,-0.8,-0.4,-1,-0.6,-0.3,-0.9,-0.5,-1.1,-0.7,-1.3,-0.9,-0.5,-1.1,-0.7,-1.3,-0.9,-1.5,-1.1,-0.7]},
{"k":"o13","g":"o","x":[2015,2016,2017,2018,2019,2020,2021,2022,2023,2024,2025,2026,2027,2028,2029,2030,2031,2032,2033,2034,2035,2036,2037,2038,2039,2040],"y":[-0.3,-0.9,-0.4,-1.2,-0.7,-1,-0.5,-1.3,-0.8,-1.1,-0.6,-1.2,-0.9,-1.5,-1,-1.7,-1.2,-2,-1.5,-2.3,-1.8,-2.6,-2,-2.9,-2.3,-2.7]},
{"k":"o14","g":"o","x":[2015,2016,2017,2018,2019,2020,2021,2022,2023,2024,2025,2026,2027,2028,2029,2030,2031,2032,2033,2034,2035,2036,2037,2038,2039,2040],"y":[-1.6,-1,-0.6,-1.1,-0.4,-0.9,-1.4,-0.8,-0.3,-0.9,-1.3,-0.7,-1,-0.5,-1.2,-0.8,-1.4,-0.9,-1.3,-1.8,-1.2,-1.7,-2.2,-1.6,-2,-1.5]},
{"k":"o15","g":"o","x":[2015,2016,2017,2018,2019,2020,2021,2022,2023,2024,2025,2026,2027,2028,2029,2030,2031,2032,2033,2034,2035,2036,2037,2038,2039,2040],"y":[0.4,-0.5,-1,-0.6,-1.3,-0.9,-1.6,-1.1,-1.8,-1.3,-2.1,-1.6,-2.4,-1.9,-2.8,-2.3,-3.2,-2.7,-3.6,-3.1,-3.9,-4.5,-4,-4.8,-4.3,-5]},
{"k":"o16","g":"o","x":[2015,2016,2017,2018,2019,2020,2021,2022,2023,2024,2025,2026,2027,2028,2029,2030,2031,2032,2033,2034,2035,2036,2037,2038,2039,2040],"y":[-0.6,-1.1,-0.7,-0.2,-0.8,-0.3,-0.9,-0.5,-1,-0.4,-0.9,-0.3,-0.8,-1.2,-0.6,-1.1,-0.5,-1,-1.5,-0.9,-1.3,-0.7,-1.2,-1.6,-1,-1.3]}
],
"th":[{"x":2040.3,"x2":2046.9,"y":1.5},{"x":2040.3,"x2":2053.2,"y":1.81},{"x":2040.3,"x2":2053.2,"y":0.45}],
"tv":[{"s":"bl","x":2046.9,"y":0.42,"y2":-0.57},{"s":"rd","x":2053.2,"y":0.42,"y2":-0.57}],
"tbar":[{"s":"bl","x":2046.9,"y":0.45,"y2":1.5},{"s":"rd","x":2053.2,"y":0.45,"y2":1.81}],
"tlab":[{"s":"bl","t":"SSP1−2.6","x":2044.2,"y":0.95},{"s":"rd","t":"SSP3−7.0","x":2051.2,"y":1.13}],
"tem":[{"s":"bl","t":"低排出","x":2045.9,"y":-0.77},{"s":"rd","t":"高排出","x":2053.7,"y":-0.77}],
"bh":[{"x":2040.3,"x2":2053.2,"y":0.2},{"x":2040.3,"x2":2046.9,"y":-0.42},{"x":2040.3,"x2":2046.9,"y":-5.48},{"x":2040.3,"x2":2053.2,"y":-5.75}],
"bv":[{"s":"bl","x":2046.9,"y":-0.42,"y2":3.85},{"s":"rd","x":2053.2,"y":0.2,"y2":3.85}],
"bbar":[{"s":"bl","x":2046.9,"y":-5.48,"y2":-0.42},{"s":"rd","x":2053.2,"y":-5.75,"y2":0.2}],
"blab":[{"s":"bl","t":"SSP1−2.6","x":2045.0,"y":-2.97},{"s":"rd","t":"SSP3−7.0","x":2051.2,"y":-2.94}]
},
"vconcat":[
{"width":367,"height":305,
"layer":[
{"data":{"name":"tl"},"transform":[{"flatten":["x","y"]}],
"mark":{"type":"line","strokeWidth":1.2,"opacity":0.85},
"encoding":{
"x":{"field":"x","type":"quantitative","scale":{"domain":[1995,2040],"nice":false,"zero":false},"axis":{"values":[1995,2000,2005,2010,2015,2020,2025,2030,2035,2040],"format":"d","labelExpr":"datum.value % 10 === 0 ? datum.label : ''"}},
"y":{"field":"y","type":"quantitative","scale":{"domain":[-0.5,2],"nice":false,"zero":false},"axis":{"values":[-0.5,-0.25,0,0.25,0.5,0.75,1,1.25,1.5,1.75,2],"labelExpr":"(datum.value * 2) % 1 === 0 ? replace(format(datum.value, '.1f'), '−', '-') : ''"}},
"detail":{"field":"k"},
"color":{"field":"g","type":"nominal","scale":{"domain":["h","b","o","bl","rd"],"range":["#c3c7c9","#7fb1dc","#e9764f","#7db0da","#d5403a"]},"legend":null}}},
{"data":{"name":"th"},"mark":{"type":"rule","color":"#c4c4c4","strokeWidth":1.5,"strokeDash":[4,3]},
"encoding":{"x":{"field":"x","type":"quantitative"},"x2":{"field":"x2"},"y":{"field":"y","type":"quantitative"}}},
{"data":{"name":"tv"},"mark":{"type":"rule","strokeWidth":1.5,"strokeDash":[5,4],"opacity":0.85},
"encoding":{"x":{"field":"x","type":"quantitative"},"y":{"field":"y","type":"quantitative"},"y2":{"field":"y2"},
"color":{"field":"s","type":"nominal","scale":{"domain":["h","b","o","bl","rd"],"range":["#c3c7c9","#7fb1dc","#e9764f","#7db0da","#d5403a"]},"legend":null}}},
{"data":{"name":"tbar"},"mark":{"type":"rule","strokeWidth":7.5,"strokeCap":"butt"},
"encoding":{"x":{"field":"x","type":"quantitative"},"y":{"field":"y","type":"quantitative"},"y2":{"field":"y2"},
"color":{"field":"s","type":"nominal","scale":{"domain":["h","b","o","bl","rd"],"range":["#c3c7c9","#7fb1dc","#e9764f","#7db0da","#d5403a"]},"legend":null}}},
{"data":{"name":"tlab"},"mark":{"type":"text","angle":270,"align":"center","baseline":"middle","font":"Liberation Sans","fontSize":23},
"encoding":{"x":{"field":"x","type":"quantitative"},"y":{"field":"y","type":"quantitative"},"text":{"field":"t"},
"color":{"field":"s","type":"nominal","scale":{"domain":["h","b","o","bl","rd"],"range":["#c3c7c9","#7fb1dc","#e9764f","#7db0da","#d5403a"]},"legend":null}}},
{"data":{"name":"tem"},"mark":{"type":"text","align":"center","baseline":"middle","font":"Noto Sans CJK JP","fontWeight":"bold","fontSize":19},
"encoding":{"x":{"field":"x","type":"quantitative"},"y":{"field":"y","type":"quantitative"},"text":{"field":"t"},
"color":{"field":"s","type":"nominal","scale":{"domain":["h","b","o","bl","rd"],"range":["#c3c7c9","#7fb1dc","#e9764f","#7db0da","#e0514a"]},"legend":null}}},
{"data":{"values":[{"t":"過去","x":2003.7,"y":0.64}]},"mark":{"type":"text","align":"center","baseline":"middle","font":"Noto Sans CJK JP","fontSize":15,"color":"#9a9a9a"},
"encoding":{"x":{"field":"x","type":"quantitative"},"y":{"field":"y","type":"quantitative"},"text":{"field":"t"}}},
{"data":{"values":[{"t":"世界平均気温の変化（℃）","x":1988.95,"y":2.24}]},"mark":{"type":"text","align":"left","baseline":"middle","font":"Noto Sans CJK JP","fontWeight":"bold","fontSize":21,"color":"#666666"},
"encoding":{"x":{"field":"x","type":"quantitative"},"y":{"field":"y","type":"quantitative"},"text":{"field":"t"}}}
]},
{"width":367,"height":307,
"layer":[
{"data":{"name":"bl"},"transform":[{"flatten":["x","y"]}],
"mark":{"type":"line","strokeWidth":1.2,"opacity":0.85},
"encoding":{
"x":{"field":"x","type":"quantitative","scale":{"domain":[1995,2040],"nice":false,"zero":false},"axis":{"values":[1995,2000,2005,2010,2015,2020,2025,2030,2035,2040],"format":"d","labelExpr":"datum.value % 10 === 0 ? datum.label : ''"}},
"y":{"field":"y","type":"quantitative","scale":{"domain":[-6,3],"nice":false,"zero":false},"axis":{"values":[-6,-5,-4,-3,-2,-1,0,1,2,3],"labelExpr":"datum.value % 2 === 0 ? replace(format(datum.value, 'd'), '−', '-') : ''"}},
"detail":{"field":"k"},
"color":{"field":"g","type":"nominal","scale":{"domain":["h","b","o","bl","rd"],"range":["#c3c7c9","#7fb1dc","#e9764f","#7db0da","#d5403a"]},"legend":null}}},
{"data":{"name":"bh"},"mark":{"type":"rule","color":"#c4c4c4","strokeWidth":1.5,"strokeDash":[4,3]},
"encoding":{"x":{"field":"x","type":"quantitative"},"x2":{"field":"x2"},"y":{"field":"y","type":"quantitative"}}},
{"data":{"name":"bv"},"mark":{"type":"rule","strokeWidth":1.5,"strokeDash":[5,4],"opacity":0.85},
"encoding":{"x":{"field":"x","type":"quantitative"},"y":{"field":"y","type":"quantitative"},"y2":{"field":"y2"},
"color":{"field":"s","type":"nominal","scale":{"domain":["h","b","o","bl","rd"],"range":["#c3c7c9","#7fb1dc","#e9764f","#7db0da","#d5403a"]},"legend":null}}},
{"data":{"name":"bbar"},"mark":{"type":"rule","strokeWidth":7.5,"strokeCap":"butt"},
"encoding":{"x":{"field":"x","type":"quantitative"},"y":{"field":"y","type":"quantitative"},"y2":{"field":"y2"},
"color":{"field":"s","type":"nominal","scale":{"domain":["h","b","o","bl","rd"],"range":["#c3c7c9","#7fb1dc","#e9764f","#7db0da","#d5403a"]},"legend":null}}},
{"data":{"name":"blab"},"mark":{"type":"text","angle":270,"align":"center","baseline":"middle","font":"Liberation Sans","fontSize":23},
"encoding":{"x":{"field":"x","type":"quantitative"},"y":{"field":"y","type":"quantitative"},"text":{"field":"t"},
"color":{"field":"s","type":"nominal","scale":{"domain":["h","b","o","bl","rd"],"range":["#c3c7c9","#7fb1dc","#e9764f","#7db0da","#d5403a"]},"legend":null}}},
{"data":{"values":[{"t":"過去","x":2003.7,"y":-2.82}]},"mark":{"type":"text","align":"center","baseline":"middle","font":"Noto Sans CJK JP","fontSize":15,"color":"#9a9a9a"},
"encoding":{"x":{"field":"x","type":"quantitative"},"y":{"field":"y","type":"quantitative"},"text":{"field":"t"}}},
{"data":{"values":[{"t":"排出シナリオ","x":2050.1,"y":4.84}]},"mark":{"type":"text","align":"center","baseline":"middle","font":"Noto Sans CJK JP","fontSize":19,"color":"#bdbdbd"},
"encoding":{"x":{"field":"x","type":"quantitative"},"y":{"field":"y","type":"quantitative"},"text":{"field":"t"}}},
{"data":{"values":[{"t":"海氷面積の変化（100万 km²）","x":1988.95,"y":4.49}]},"mark":{"type":"text","align":"left","baseline":"middle","font":"Noto Sans CJK JP","fontWeight":"bold","fontSize":21,"color":"#666666"},
"encoding":{"x":{"field":"x","type":"quantitative"},"y":{"field":"y","type":"quantitative"},"text":{"field":"t"}}},
{"data":{"values":[{"t":"（北極域、9月）","x":1988.34,"y":3.73}]},"mark":{"type":"text","align":"left","baseline":"middle","font":"Noto Sans CJK JP","fontSize":17,"color":"#777777"},
"encoding":{"x":{"field":"x","type":"quantitative"},"y":{"field":"y","type":"quantitative"},"text":{"field":"t"}}},
{"data":{"values":[{"t":"年","x":2020.6,"y":-7.3}]},"mark":{"type":"text","align":"center","baseline":"middle","font":"Noto Sans CJK JP","fontSize":16,"color":"#333333"},
"encoding":{"x":{"field":"x","type":"quantitative"},"y":{"field":"y","type":"quantitative"},"text":{"field":"t"}}}
]}
]
}
